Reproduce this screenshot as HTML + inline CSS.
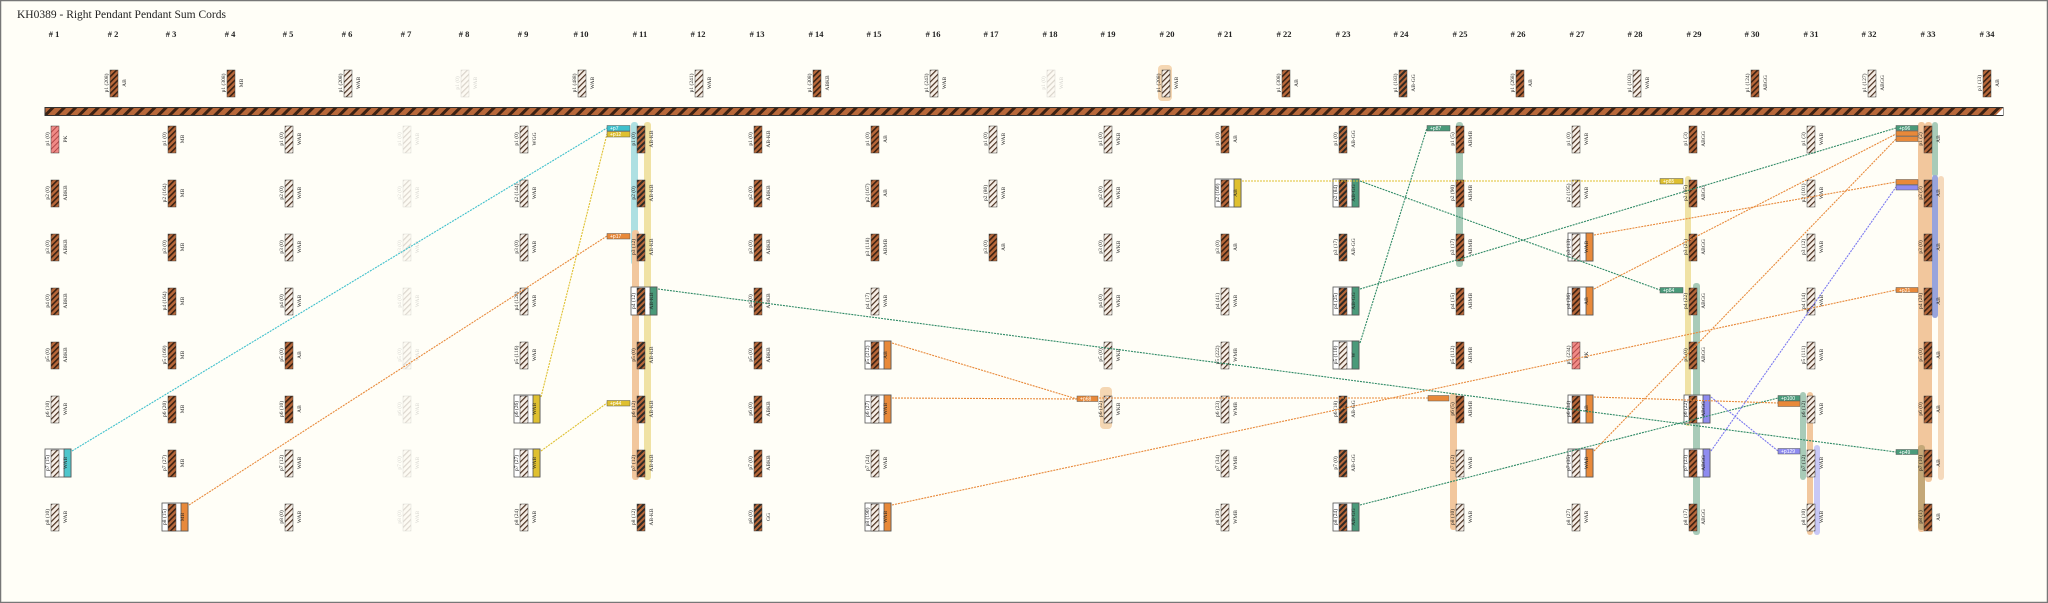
<!DOCTYPE html>
<html><head><meta charset="utf-8"><style>
html,body{margin:0;padding:0;background:#fffef7}
svg{display:block}
.t{font-family:"Liberation Serif",serif;font-size:5.5px;fill:#222;text-anchor:middle}
.h{font-family:"Liberation Serif",serif;font-size:8.5px;fill:#222;text-anchor:middle;font-weight:bold}
.g{font-family:"Liberation Sans",sans-serif;font-size:5px;fill:#fff}
.c{stroke:#444;stroke-width:.5}
.ln{fill:none;stroke-width:1.1;stroke-dasharray:2 1}
</style></head><body>
<svg width="2048" height="603" viewBox="0 0 2048 603" xmlns="http://www.w3.org/2000/svg">
<defs>
<pattern id="b" width="4" height="4" patternUnits="userSpaceOnUse" patternTransform="rotate(45)"><rect width="4" height="4" fill="#b8683a"/><rect width="1.6" height="4" fill="#3b2214"/></pattern>
<pattern id="w" width="4" height="4" patternUnits="userSpaceOnUse" patternTransform="rotate(45)"><rect width="4" height="4" fill="#f6eee6"/><rect width="1.2" height="4" fill="#4a3020"/></pattern>
<pattern id="p" width="4" height="4" patternUnits="userSpaceOnUse" patternTransform="rotate(45)"><rect width="4" height="4" fill="#f08a86"/><rect width="1" height="4" fill="#b04848"/></pattern>
<pattern id="d" width="4" height="4" patternUnits="userSpaceOnUse" patternTransform="rotate(45)"><rect width="4" height="4" fill="#b8683a"/><rect width="2" height="4" fill="#2e2a26"/></pattern>
<pattern id="m" width="8" height="8" patternUnits="userSpaceOnUse" patternTransform="rotate(45)"><rect width="8" height="8" fill="#b8683a"/><rect width="3" height="8" fill="#3b2214"/></pattern>
</defs>
<rect x="0.5" y="0.5" width="2047" height="602" fill="#fffef7" stroke="#777" stroke-width="1.5"/>
<text x="17" y="18" style="font-family:'Liberation Serif',serif;font-size:11.5px;fill:#222">KH0389 - Right Pendant Pendant Sum Cords</text>
<g>
<text class="h" x="54" y="37"># 1</text><text class="h" x="113" y="37"># 2</text><text class="h" x="171" y="37"># 3</text><text class="h" x="230" y="37"># 4</text><text class="h" x="288" y="37"># 5</text><text class="h" x="347" y="37"># 6</text><text class="h" x="406" y="37"># 7</text><text class="h" x="464" y="37"># 8</text><text class="h" x="523" y="37"># 9</text><text class="h" x="581" y="37"># 10</text><text class="h" x="640" y="37"># 11</text><text class="h" x="698" y="37"># 12</text><text class="h" x="757" y="37"># 13</text><text class="h" x="816" y="37"># 14</text><text class="h" x="874" y="37"># 15</text><text class="h" x="933" y="37"># 16</text><text class="h" x="991" y="37"># 17</text><text class="h" x="1050" y="37"># 18</text><text class="h" x="1108" y="37"># 19</text><text class="h" x="1167" y="37"># 20</text><text class="h" x="1225" y="37"># 21</text><text class="h" x="1284" y="37"># 22</text><text class="h" x="1343" y="37"># 23</text><text class="h" x="1401" y="37"># 24</text><text class="h" x="1460" y="37"># 25</text><text class="h" x="1518" y="37"># 26</text><text class="h" x="1577" y="37"># 27</text><text class="h" x="1635" y="37"># 28</text><text class="h" x="1694" y="37"># 29</text><text class="h" x="1752" y="37"># 30</text><text class="h" x="1811" y="37"># 31</text><text class="h" x="1869" y="37"># 32</text><text class="h" x="1928" y="37"># 33</text><text class="h" x="1987" y="37"># 34</text>
</g>
<!-- main cord -->
<rect x="45" y="107.5" width="1958" height="8" fill="url(#m)" stroke="#333" stroke-width="1"/>
<polygon points="1996,115 2003,108 2003,115" fill="#fff"/>
<!-- highlight bars -->
<g>
<rect x="1158" y="65" width="14" height="36" rx="4" fill="#f5d7b3"/>
<rect x="631" y="122" width="7" height="143" rx="3" fill="#aee0e2"/>
<rect x="644" y="122" width="7" height="358" rx="3" fill="#f0e2a4"/>
<rect x="632" y="230" width="7" height="250" rx="3" fill="#f2c79d"/>
<rect x="1100" y="387" width="12" height="42" rx="4" fill="#f5d7b3"/>
<rect x="1456" y="122" width="7" height="145" rx="3" fill="#a8cbb8"/>
<rect x="1450" y="393" width="7" height="137" rx="3" fill="#f2c79d"/>
<rect x="1685" y="176" width="6" height="250" rx="3" fill="#f0e2a4"/>
<rect x="1693" y="283" width="7" height="252" rx="3" fill="#a8cbb8"/>
<rect x="1800" y="392" width="6" height="88" rx="3" fill="#a8cbb8"/>
<rect x="1807" y="392" width="6" height="143" rx="3" fill="#f2c79d"/>
<rect x="1814" y="445" width="6" height="90" rx="3" fill="#c8c8f6"/>
<rect x="1918" y="122" width="7" height="410" rx="3" fill="#f2c79d"/>
<rect x="1918" y="445" width="7" height="85" rx="3" fill="#c4a878"/>
<rect x="1925" y="122" width="7" height="360" rx="3" fill="#f2c79d"/>
<rect x="1932" y="122" width="6" height="55" rx="3" fill="#a8cbb8"/>
<rect x="1932" y="175" width="6" height="143" rx="3" fill="#98a4dc"/>
<rect x="1938" y="176" width="6" height="304" rx="3" fill="#f5d9bb"/>
</g>
<!-- top subsidiaries -->
<g>
<g transform="translate(114,83)"><rect class="c" x="-4" y="-13" width="8" height="27" fill="url(#b)"/><text class="t" transform="rotate(-90)" y="-6">p1 (208)</text><text class="t" transform="rotate(-90)" y="12">AB</text></g>
<g transform="translate(231,83)"><rect class="c" x="-4" y="-13" width="8" height="27" fill="url(#b)"/><text class="t" transform="rotate(-90)" y="-6">p1 (308)</text><text class="t" transform="rotate(-90)" y="12">MB</text></g>
<g transform="translate(348,83)"><rect class="c" x="-4" y="-13" width="8" height="27" fill="url(#w)"/><text class="t" transform="rotate(-90)" y="-6">p1 (208)</text><text class="t" transform="rotate(-90)" y="12">WAB</text></g>
<g transform="translate(465,83)" opacity=".2"><rect class="c" x="-4" y="-13" width="8" height="27" fill="url(#w)"/><text class="t" transform="rotate(-90)" y="-6">p1 (0)</text><text class="t" transform="rotate(-90)" y="12">WAB</text></g>
<g transform="translate(582,83)"><rect class="c" x="-4" y="-13" width="8" height="27" fill="url(#w)"/><text class="t" transform="rotate(-90)" y="-6">p1 (488)</text><text class="t" transform="rotate(-90)" y="12">WAB</text></g>
<g transform="translate(699,83)"><rect class="c" x="-4" y="-13" width="8" height="27" fill="url(#w)"/><text class="t" transform="rotate(-90)" y="-6">p1 (241)</text><text class="t" transform="rotate(-90)" y="12">WAB</text></g>
<g transform="translate(817,83)"><rect class="c" x="-4" y="-13" width="8" height="27" fill="url(#b)"/><text class="t" transform="rotate(-90)" y="-6">p1 (308)</text><text class="t" transform="rotate(-90)" y="12">ABKB</text></g>
<g transform="translate(934,83)"><rect class="c" x="-4" y="-13" width="8" height="27" fill="url(#w)"/><text class="t" transform="rotate(-90)" y="-6">p1 (243)</text><text class="t" transform="rotate(-90)" y="12">WAB</text></g>
<g transform="translate(1051,83)" opacity=".2"><rect class="c" x="-4" y="-13" width="8" height="27" fill="url(#w)"/><text class="t" transform="rotate(-90)" y="-6">p1 (0)</text><text class="t" transform="rotate(-90)" y="12">WAB</text></g>
<g transform="translate(1166,83)"><rect class="c" x="-4" y="-13" width="8" height="27" fill="url(#w)"/><text class="t" transform="rotate(-90)" y="-6">p1 (208)</text><text class="t" transform="rotate(-90)" y="12">WAB</text></g>
<g transform="translate(1286,83)"><rect class="c" x="-4" y="-13" width="8" height="27" fill="url(#b)"/><text class="t" transform="rotate(-90)" y="-6">p1 (308)</text><text class="t" transform="rotate(-90)" y="12">AB</text></g>
<g transform="translate(1403,83)"><rect class="c" x="-4" y="-13" width="8" height="27" fill="url(#d)"/><text class="t" transform="rotate(-90)" y="-6">p1 (183)</text><text class="t" transform="rotate(-90)" y="12">AB-GG</text></g>
<g transform="translate(1520,83)"><rect class="c" x="-4" y="-13" width="8" height="27" fill="url(#b)"/><text class="t" transform="rotate(-90)" y="-6">p1 (268)</text><text class="t" transform="rotate(-90)" y="12">AB</text></g>
<g transform="translate(1637,83)"><rect class="c" x="-4" y="-13" width="8" height="27" fill="url(#w)"/><text class="t" transform="rotate(-90)" y="-6">p1 (103)</text><text class="t" transform="rotate(-90)" y="12">WAB</text></g>
<g transform="translate(1755,83)"><rect class="c" x="-4" y="-13" width="8" height="27" fill="url(#b)"/><text class="t" transform="rotate(-90)" y="-6">p1 (124)</text><text class="t" transform="rotate(-90)" y="12">ABGG</text></g>
<g transform="translate(1872,83)"><rect class="c" x="-4" y="-13" width="8" height="27" fill="url(#w)"/><text class="t" transform="rotate(-90)" y="-6">p1 (127)</text><text class="t" transform="rotate(-90)" y="12">ABGG</text></g>
<g transform="translate(1987,83)"><rect class="c" x="-4" y="-13" width="8" height="27" fill="url(#b)"/><text class="t" transform="rotate(-90)" y="-6">p1 (13)</text><text class="t" transform="rotate(-90)" y="12">AB</text></g>
</g>
<!-- highlighted boxes (drawn before cords) -->
<g stroke="#555" stroke-width=".8">
<rect x="45" y="449" width="26" height="28" fill="#fff"/><rect x="64" y="449" width="7" height="28" fill="#4fc6cc"/>
<rect x="162" y="503" width="26" height="28" fill="#fff"/><rect x="181" y="503" width="7" height="28" fill="#e8893a"/>
<rect x="514" y="395" width="26" height="28" fill="#fff"/><rect x="533" y="395" width="7" height="28" fill="#dfc030"/>
<rect x="514" y="449" width="26" height="28" fill="#fff"/><rect x="533" y="449" width="7" height="28" fill="#dfc030"/>
<rect x="631" y="287" width="26" height="28" fill="#fff"/><rect x="650" y="287" width="7" height="28" fill="#4a9a7a"/>
<rect x="865" y="341" width="26" height="28" fill="#fff"/><rect x="884" y="341" width="7" height="28" fill="#e8893a"/>
<rect x="865" y="395" width="26" height="28" fill="#fff"/><rect x="884" y="395" width="7" height="28" fill="#e8893a"/>
<rect x="865" y="503" width="26" height="28" fill="#fff"/><rect x="884" y="503" width="7" height="28" fill="#e8893a"/>
<rect x="1215" y="179" width="26" height="28" fill="#fff"/><rect x="1234" y="179" width="7" height="28" fill="#dfc030"/>
<rect x="1333" y="179" width="26" height="28" fill="#fff"/><rect x="1352" y="179" width="7" height="28" fill="#4a9a7a"/>
<rect x="1333" y="287" width="26" height="28" fill="#fff"/><rect x="1352" y="287" width="7" height="28" fill="#4a9a7a"/>
<rect x="1333" y="341" width="26" height="28" fill="#fff"/><rect x="1352" y="341" width="7" height="28" fill="#4a9a7a"/>
<rect x="1333" y="503" width="26" height="28" fill="#fff"/><rect x="1352" y="503" width="7" height="28" fill="#4a9a7a"/>
<rect x="1568" y="233" width="25" height="28" fill="#fff"/><rect x="1586" y="233" width="7" height="28" fill="#e8893a"/>
<rect x="1568" y="287" width="25" height="28" fill="#fff"/><rect x="1586" y="287" width="7" height="28" fill="#e8893a"/>
<rect x="1568" y="395" width="25" height="28" fill="#fff"/><rect x="1586" y="395" width="7" height="28" fill="#e8893a"/>
<rect x="1568" y="449" width="25" height="28" fill="#fff"/><rect x="1586" y="449" width="7" height="28" fill="#e8893a"/>
<rect x="1684" y="395" width="26" height="28" fill="#fff"/><rect x="1703" y="395" width="7" height="28" fill="#8f8cf0"/>
<rect x="1684" y="449" width="26" height="28" fill="#fff"/><rect x="1703" y="449" width="7" height="28" fill="#8f8cf0"/>
</g>
<!-- pendants -->
<g id="pend">
<!-- col1 -->
<g transform="translate(55,139)"><rect class="c" x="-4" y="-13" width="8" height="27" fill="url(#p)"/><text class="t" transform="rotate(-90)" y="-6">p1 (0)</text><text class="t" transform="rotate(-90)" y="12">PK</text></g>
<g transform="translate(55,193)"><rect class="c" x="-4" y="-13" width="8" height="27" fill="url(#b)"/><text class="t" transform="rotate(-90)" y="-6">p2 (0)</text><text class="t" transform="rotate(-90)" y="12">ABKB</text></g>
<g transform="translate(55,247)"><rect class="c" x="-4" y="-13" width="8" height="27" fill="url(#b)"/><text class="t" transform="rotate(-90)" y="-6">p3 (0)</text><text class="t" transform="rotate(-90)" y="12">ABKB</text></g>
<g transform="translate(55,301)"><rect class="c" x="-4" y="-13" width="8" height="27" fill="url(#b)"/><text class="t" transform="rotate(-90)" y="-6">p4 (0)</text><text class="t" transform="rotate(-90)" y="12">ABKB</text></g>
<g transform="translate(55,355)"><rect class="c" x="-4" y="-13" width="8" height="27" fill="url(#b)"/><text class="t" transform="rotate(-90)" y="-6">p5 (0)</text><text class="t" transform="rotate(-90)" y="12">ABKB</text></g>
<g transform="translate(55,409)"><rect class="c" x="-4" y="-13" width="8" height="27" fill="url(#w)"/><text class="t" transform="rotate(-90)" y="-6">p6 (10)</text><text class="t" transform="rotate(-90)" y="12">WAB</text></g>
<g transform="translate(55,463)"><rect class="c" x="-4" y="-13" width="8" height="27" fill="url(#w)"/><text class="t" transform="rotate(-90)" y="-6">p7 (15)</text><text class="t" transform="rotate(-90)" y="12">WAB</text></g>
<g transform="translate(55,517)"><rect class="c" x="-4" y="-13" width="8" height="27" fill="url(#w)"/><text class="t" transform="rotate(-90)" y="-6">p8 (10)</text><text class="t" transform="rotate(-90)" y="12">WAB</text></g>
<!-- col3 -->
<g transform="translate(172,139)"><rect class="c" x="-4" y="-13" width="8" height="27" fill="url(#b)"/><text class="t" transform="rotate(-90)" y="-6">p1 (0)</text><text class="t" transform="rotate(-90)" y="12">MB</text></g>
<g transform="translate(172,193)"><rect class="c" x="-4" y="-13" width="8" height="27" fill="url(#b)"/><text class="t" transform="rotate(-90)" y="-6">p2 (164)</text><text class="t" transform="rotate(-90)" y="12">MB</text></g>
<g transform="translate(172,247)"><rect class="c" x="-4" y="-13" width="8" height="27" fill="url(#b)"/><text class="t" transform="rotate(-90)" y="-6">p3 (0)</text><text class="t" transform="rotate(-90)" y="12">MB</text></g>
<g transform="translate(172,301)"><rect class="c" x="-4" y="-13" width="8" height="27" fill="url(#b)"/><text class="t" transform="rotate(-90)" y="-6">p4 (164)</text><text class="t" transform="rotate(-90)" y="12">MB</text></g>
<g transform="translate(172,355)"><rect class="c" x="-4" y="-13" width="8" height="27" fill="url(#b)"/><text class="t" transform="rotate(-90)" y="-6">p5 (160)</text><text class="t" transform="rotate(-90)" y="12">MB</text></g>
<g transform="translate(172,409)"><rect class="c" x="-4" y="-13" width="8" height="27" fill="url(#b)"/><text class="t" transform="rotate(-90)" y="-6">p6 (20)</text><text class="t" transform="rotate(-90)" y="12">MB</text></g>
<g transform="translate(172,463)"><rect class="c" x="-4" y="-13" width="8" height="27" fill="url(#b)"/><text class="t" transform="rotate(-90)" y="-6">p7 (27)</text><text class="t" transform="rotate(-90)" y="12">MB</text></g>
<g transform="translate(172,517)"><rect class="c" x="-4" y="-13" width="8" height="27" fill="url(#b)"/><text class="t" transform="rotate(-90)" y="-6">p8 (15)</text><text class="t" transform="rotate(-90)" y="12">MB</text></g>
<!-- col5 -->
<g transform="translate(289,139)"><rect class="c" x="-4" y="-13" width="8" height="27" fill="url(#w)"/><text class="t" transform="rotate(-90)" y="-6">p1 (0)</text><text class="t" transform="rotate(-90)" y="12">WAB</text></g>
<g transform="translate(289,193)"><rect class="c" x="-4" y="-13" width="8" height="27" fill="url(#w)"/><text class="t" transform="rotate(-90)" y="-6">p2 (0)</text><text class="t" transform="rotate(-90)" y="12">WAB</text></g>
<g transform="translate(289,247)"><rect class="c" x="-4" y="-13" width="8" height="27" fill="url(#w)"/><text class="t" transform="rotate(-90)" y="-6">p3 (0)</text><text class="t" transform="rotate(-90)" y="12">WAB</text></g>
<g transform="translate(289,301)"><rect class="c" x="-4" y="-13" width="8" height="27" fill="url(#w)"/><text class="t" transform="rotate(-90)" y="-6">p4 (0)</text><text class="t" transform="rotate(-90)" y="12">WAB</text></g>
<g transform="translate(289,355)"><rect class="c" x="-4" y="-13" width="8" height="27" fill="url(#b)"/><text class="t" transform="rotate(-90)" y="-6">p5 (0)</text><text class="t" transform="rotate(-90)" y="12">AB</text></g>
<g transform="translate(289,409)"><rect class="c" x="-4" y="-13" width="8" height="27" fill="url(#b)"/><text class="t" transform="rotate(-90)" y="-6">p6 (10)</text><text class="t" transform="rotate(-90)" y="12">AB</text></g>
<g transform="translate(289,463)"><rect class="c" x="-4" y="-13" width="8" height="27" fill="url(#w)"/><text class="t" transform="rotate(-90)" y="-6">p7 (12)</text><text class="t" transform="rotate(-90)" y="12">WAB</text></g>
<g transform="translate(289,517)"><rect class="c" x="-4" y="-13" width="8" height="27" fill="url(#w)"/><text class="t" transform="rotate(-90)" y="-6">p8 (0)</text><text class="t" transform="rotate(-90)" y="12">WAB</text></g>
<!-- col7 faded -->
<g opacity=".18">
<g transform="translate(407,139)"><rect class="c" x="-4" y="-13" width="8" height="27" fill="url(#w)"/><text class="t" transform="rotate(-90)" y="-6">p1 (0)</text><text class="t" transform="rotate(-90)" y="12">WAB</text></g>
<g transform="translate(407,193)"><rect class="c" x="-4" y="-13" width="8" height="27" fill="url(#w)"/><text class="t" transform="rotate(-90)" y="-6">p2 (0)</text><text class="t" transform="rotate(-90)" y="12">WAB</text></g>
<g transform="translate(407,247)"><rect class="c" x="-4" y="-13" width="8" height="27" fill="url(#w)"/><text class="t" transform="rotate(-90)" y="-6">p3 (0)</text><text class="t" transform="rotate(-90)" y="12">WAB</text></g>
<g transform="translate(407,301)"><rect class="c" x="-4" y="-13" width="8" height="27" fill="url(#w)"/><text class="t" transform="rotate(-90)" y="-6">p4 (0)</text><text class="t" transform="rotate(-90)" y="12">WAB</text></g>
<g transform="translate(407,355)"><rect class="c" x="-4" y="-13" width="8" height="27" fill="url(#w)"/><text class="t" transform="rotate(-90)" y="-6">p5 (0)</text><text class="t" transform="rotate(-90)" y="12">WAB</text></g>
<g transform="translate(407,409)"><rect class="c" x="-4" y="-13" width="8" height="27" fill="url(#w)"/><text class="t" transform="rotate(-90)" y="-6">p6 (0)</text><text class="t" transform="rotate(-90)" y="12">WAB</text></g>
<g transform="translate(407,463)"><rect class="c" x="-4" y="-13" width="8" height="27" fill="url(#w)"/><text class="t" transform="rotate(-90)" y="-6">p7 (0)</text><text class="t" transform="rotate(-90)" y="12">WAB</text></g>
<g transform="translate(407,517)"><rect class="c" x="-4" y="-13" width="8" height="27" fill="url(#w)"/><text class="t" transform="rotate(-90)" y="-6">p8 (0)</text><text class="t" transform="rotate(-90)" y="12">WAB</text></g>
</g>
<!-- col9 -->
<g transform="translate(524,139)"><rect class="c" x="-4" y="-13" width="8" height="27" fill="url(#w)"/><text class="t" transform="rotate(-90)" y="-6">p1 (0)</text><text class="t" transform="rotate(-90)" y="12">WGG</text></g>
<g transform="translate(524,193)"><rect class="c" x="-4" y="-13" width="8" height="27" fill="url(#w)"/><text class="t" transform="rotate(-90)" y="-6">p2 (144)</text><text class="t" transform="rotate(-90)" y="12">WAB</text></g>
<g transform="translate(524,247)"><rect class="c" x="-4" y="-13" width="8" height="27" fill="url(#w)"/><text class="t" transform="rotate(-90)" y="-6">p3 (0)</text><text class="t" transform="rotate(-90)" y="12">WAB</text></g>
<g transform="translate(524,301)"><rect class="c" x="-4" y="-13" width="8" height="27" fill="url(#w)"/><text class="t" transform="rotate(-90)" y="-6">p4 (128)</text><text class="t" transform="rotate(-90)" y="12">WAB</text></g>
<g transform="translate(524,355)"><rect class="c" x="-4" y="-13" width="8" height="27" fill="url(#w)"/><text class="t" transform="rotate(-90)" y="-6">p5 (116)</text><text class="t" transform="rotate(-90)" y="12">WAB</text></g>
<g transform="translate(524,409)"><rect class="c" x="-4" y="-13" width="8" height="27" fill="url(#w)"/><text class="t" transform="rotate(-90)" y="-6">p6 (26)</text><text class="t" transform="rotate(-90)" y="12">WAB</text></g>
<g transform="translate(524,463)"><rect class="c" x="-4" y="-13" width="8" height="27" fill="url(#w)"/><text class="t" transform="rotate(-90)" y="-6">p7 (27)</text><text class="t" transform="rotate(-90)" y="12">WAB</text></g>
<g transform="translate(524,517)"><rect class="c" x="-4" y="-13" width="8" height="27" fill="url(#w)"/><text class="t" transform="rotate(-90)" y="-6">p8 (24)</text><text class="t" transform="rotate(-90)" y="12">WAB</text></g>
<!-- col11 -->
<g transform="translate(641,139)"><rect class="c" x="-4" y="-13" width="8" height="27" fill="url(#d)"/><text class="t" transform="rotate(-90)" y="-6">p1 (0)</text><text class="t" transform="rotate(-90)" y="12">AB-KB</text></g>
<g transform="translate(641,193)"><rect class="c" x="-4" y="-13" width="8" height="27" fill="url(#d)"/><text class="t" transform="rotate(-90)" y="-6">p2 (0)</text><text class="t" transform="rotate(-90)" y="12">AB-KB</text></g>
<g transform="translate(641,247)"><rect class="c" x="-4" y="-13" width="8" height="27" fill="url(#d)"/><text class="t" transform="rotate(-90)" y="-6">p3 (12)</text><text class="t" transform="rotate(-90)" y="12">AB-KB</text></g>
<g transform="translate(641,301)"><rect class="c" x="-4" y="-13" width="8" height="27" fill="url(#d)"/><text class="t" transform="rotate(-90)" y="-6">p4 (12)</text><text class="t" transform="rotate(-90)" y="12">AB-KB</text></g>
<g transform="translate(641,355)"><rect class="c" x="-4" y="-13" width="8" height="27" fill="url(#d)"/><text class="t" transform="rotate(-90)" y="-6">p5 (0)</text><text class="t" transform="rotate(-90)" y="12">AB-KB</text></g>
<g transform="translate(641,409)"><rect class="c" x="-4" y="-13" width="8" height="27" fill="url(#d)"/><text class="t" transform="rotate(-90)" y="-6">p6 (12)</text><text class="t" transform="rotate(-90)" y="12">AB-KB</text></g>
<g transform="translate(641,463)"><rect class="c" x="-4" y="-13" width="8" height="27" fill="url(#d)"/><text class="t" transform="rotate(-90)" y="-6">p7 (12)</text><text class="t" transform="rotate(-90)" y="12">AB-KB</text></g>
<g transform="translate(641,517)"><rect class="c" x="-4" y="-13" width="8" height="27" fill="url(#d)"/><text class="t" transform="rotate(-90)" y="-6">p8 (12)</text><text class="t" transform="rotate(-90)" y="12">AB-KB</text></g>
<!-- col13 -->
<g transform="translate(758,139)"><rect class="c" x="-4" y="-13" width="8" height="27" fill="url(#b)"/><text class="t" transform="rotate(-90)" y="-6">p1 (0)</text><text class="t" transform="rotate(-90)" y="12">AB-KB</text></g>
<g transform="translate(758,193)"><rect class="c" x="-4" y="-13" width="8" height="27" fill="url(#b)"/><text class="t" transform="rotate(-90)" y="-6">p2 (0)</text><text class="t" transform="rotate(-90)" y="12">ABKB</text></g>
<g transform="translate(758,247)"><rect class="c" x="-4" y="-13" width="8" height="27" fill="url(#b)"/><text class="t" transform="rotate(-90)" y="-6">p3 (0)</text><text class="t" transform="rotate(-90)" y="12">ABKB</text></g>
<g transform="translate(758,301)"><rect class="c" x="-4" y="-13" width="8" height="27" fill="url(#b)"/><text class="t" transform="rotate(-90)" y="-6">p4 (0)</text><text class="t" transform="rotate(-90)" y="12">ABKB</text></g>
<g transform="translate(758,355)"><rect class="c" x="-4" y="-13" width="8" height="27" fill="url(#b)"/><text class="t" transform="rotate(-90)" y="-6">p5 (0)</text><text class="t" transform="rotate(-90)" y="12">ABKB</text></g>
<g transform="translate(758,409)"><rect class="c" x="-4" y="-13" width="8" height="27" fill="url(#b)"/><text class="t" transform="rotate(-90)" y="-6">p6 (0)</text><text class="t" transform="rotate(-90)" y="12">ABKB</text></g>
<g transform="translate(758,463)"><rect class="c" x="-4" y="-13" width="8" height="27" fill="url(#b)"/><text class="t" transform="rotate(-90)" y="-6">p7 (0)</text><text class="t" transform="rotate(-90)" y="12">ABKB</text></g>
<g transform="translate(758,517)"><rect class="c" x="-4" y="-13" width="8" height="27" fill="url(#d)"/><text class="t" transform="rotate(-90)" y="-6">p8 (0)</text><text class="t" transform="rotate(-90)" y="12">GG</text></g>
<!-- col15 -->
<g transform="translate(875,139)"><rect class="c" x="-4" y="-13" width="8" height="27" fill="url(#b)"/><text class="t" transform="rotate(-90)" y="-6">p1 (0)</text><text class="t" transform="rotate(-90)" y="12">AB</text></g>
<g transform="translate(875,193)"><rect class="c" x="-4" y="-13" width="8" height="27" fill="url(#b)"/><text class="t" transform="rotate(-90)" y="-6">p2 (167)</text><text class="t" transform="rotate(-90)" y="12">AB</text></g>
<g transform="translate(875,247)"><rect class="c" x="-4" y="-13" width="8" height="27" fill="url(#b)"/><text class="t" transform="rotate(-90)" y="-6">p3 (118)</text><text class="t" transform="rotate(-90)" y="12">ABMB</text></g>
<g transform="translate(875,301)"><rect class="c" x="-4" y="-13" width="8" height="27" fill="url(#w)"/><text class="t" transform="rotate(-90)" y="-6">p4 (17)</text><text class="t" transform="rotate(-90)" y="12">WAB</text></g>
<g transform="translate(875,355)"><rect class="c" x="-4" y="-13" width="8" height="27" fill="url(#b)"/><text class="t" transform="rotate(-90)" y="-6">p5 (212)</text><text class="t" transform="rotate(-90)" y="12">AB</text></g>
<g transform="translate(875,409)"><rect class="c" x="-4" y="-13" width="8" height="27" fill="url(#w)"/><text class="t" transform="rotate(-90)" y="-6">p6 (27)</text><text class="t" transform="rotate(-90)" y="12">WAB</text></g>
<g transform="translate(875,463)"><rect class="c" x="-4" y="-13" width="8" height="27" fill="url(#w)"/><text class="t" transform="rotate(-90)" y="-6">p7 (24)</text><text class="t" transform="rotate(-90)" y="12">WAB</text></g>
<g transform="translate(875,517)"><rect class="c" x="-4" y="-13" width="8" height="27" fill="url(#w)"/><text class="t" transform="rotate(-90)" y="-6">p8 (190)</text><text class="t" transform="rotate(-90)" y="12">WAB</text></g>
<!-- col17 -->
<g transform="translate(993,139)"><rect class="c" x="-4" y="-13" width="8" height="27" fill="url(#w)"/><text class="t" transform="rotate(-90)" y="-6">p1 (0)</text><text class="t" transform="rotate(-90)" y="12">WAB</text></g>
<g transform="translate(993,193)"><rect class="c" x="-4" y="-13" width="8" height="27" fill="url(#w)"/><text class="t" transform="rotate(-90)" y="-6">p2 (80)</text><text class="t" transform="rotate(-90)" y="12">WAB</text></g>
<g transform="translate(993,247)"><rect class="c" x="-4" y="-13" width="8" height="27" fill="url(#b)"/><text class="t" transform="rotate(-90)" y="-6">p3 (0)</text><text class="t" transform="rotate(-90)" y="12">AB</text></g>
<!-- col19 -->
<g transform="translate(1108,139)"><rect class="c" x="-4" y="-13" width="8" height="27" fill="url(#w)"/><text class="t" transform="rotate(-90)" y="-6">p1 (0)</text><text class="t" transform="rotate(-90)" y="12">WKB</text></g>
<g transform="translate(1108,193)"><rect class="c" x="-4" y="-13" width="8" height="27" fill="url(#w)"/><text class="t" transform="rotate(-90)" y="-6">p2 (0)</text><text class="t" transform="rotate(-90)" y="12">WKB</text></g>
<g transform="translate(1108,247)"><rect class="c" x="-4" y="-13" width="8" height="27" fill="url(#w)"/><text class="t" transform="rotate(-90)" y="-6">p3 (0)</text><text class="t" transform="rotate(-90)" y="12">WKB</text></g>
<g transform="translate(1108,301)"><rect class="c" x="-4" y="-13" width="8" height="27" fill="url(#w)"/><text class="t" transform="rotate(-90)" y="-6">p4 (0)</text><text class="t" transform="rotate(-90)" y="12">WKB</text></g>
<g transform="translate(1108,355)"><rect class="c" x="-4" y="-13" width="8" height="27" fill="url(#w)"/><text class="t" transform="rotate(-90)" y="-6">p5 (0)</text><text class="t" transform="rotate(-90)" y="12">WKB</text></g>
<g transform="translate(1108,409)"><rect class="c" x="-4" y="-13" width="8" height="27" fill="url(#w)"/><text class="t" transform="rotate(-90)" y="-6">p6 (32)</text><text class="t" transform="rotate(-90)" y="12">WKB</text></g>
<!-- col21 -->
<g transform="translate(1225,139)"><rect class="c" x="-4" y="-13" width="8" height="27" fill="url(#b)"/><text class="t" transform="rotate(-90)" y="-6">p1 (0)</text><text class="t" transform="rotate(-90)" y="12">AB</text></g>
<g transform="translate(1225,193)"><rect class="c" x="-4" y="-13" width="8" height="27" fill="url(#b)"/><text class="t" transform="rotate(-90)" y="-6">p2 (160)</text><text class="t" transform="rotate(-90)" y="12">AB</text></g>
<g transform="translate(1225,247)"><rect class="c" x="-4" y="-13" width="8" height="27" fill="url(#b)"/><text class="t" transform="rotate(-90)" y="-6">p3 (0)</text><text class="t" transform="rotate(-90)" y="12">AB</text></g>
<g transform="translate(1225,301)"><rect class="c" x="-4" y="-13" width="8" height="27" fill="url(#w)"/><text class="t" transform="rotate(-90)" y="-6">p4 (41)</text><text class="t" transform="rotate(-90)" y="12">WAB</text></g>
<g transform="translate(1225,355)"><rect class="c" x="-4" y="-13" width="8" height="27" fill="url(#w)"/><text class="t" transform="rotate(-90)" y="-6">p5 (222)</text><text class="t" transform="rotate(-90)" y="12">WMB</text></g>
<g transform="translate(1225,409)"><rect class="c" x="-4" y="-13" width="8" height="27" fill="url(#w)"/><text class="t" transform="rotate(-90)" y="-6">p6 (23)</text><text class="t" transform="rotate(-90)" y="12">WMB</text></g>
<g transform="translate(1225,463)"><rect class="c" x="-4" y="-13" width="8" height="27" fill="url(#w)"/><text class="t" transform="rotate(-90)" y="-6">p7 (34)</text><text class="t" transform="rotate(-90)" y="12">WMB</text></g>
<g transform="translate(1225,517)"><rect class="c" x="-4" y="-13" width="8" height="27" fill="url(#w)"/><text class="t" transform="rotate(-90)" y="-6">p8 (39)</text><text class="t" transform="rotate(-90)" y="12">WMB</text></g>
<!-- col23 -->
<g transform="translate(1343,139)"><rect class="c" x="-4" y="-13" width="8" height="27" fill="url(#d)"/><text class="t" transform="rotate(-90)" y="-6">p1 (0)</text><text class="t" transform="rotate(-90)" y="12">AB-GG</text></g>
<g transform="translate(1343,193)"><rect class="c" x="-4" y="-13" width="8" height="27" fill="url(#d)"/><text class="t" transform="rotate(-90)" y="-6">p2 (84)</text><text class="t" transform="rotate(-90)" y="12">AB-GG</text></g>
<g transform="translate(1343,247)"><rect class="c" x="-4" y="-13" width="8" height="27" fill="url(#d)"/><text class="t" transform="rotate(-90)" y="-6">p3 (17)</text><text class="t" transform="rotate(-90)" y="12">AB-GG</text></g>
<g transform="translate(1343,301)"><rect class="c" x="-4" y="-13" width="8" height="27" fill="url(#d)"/><text class="t" transform="rotate(-90)" y="-6">p4 (25)</text><text class="t" transform="rotate(-90)" y="12">AB-GG</text></g>
<g transform="translate(1343,355)"><rect class="c" x="-4" y="-13" width="8" height="27" fill="url(#w)"/><text class="t" transform="rotate(-90)" y="-6">p5 (110)</text><text class="t" transform="rotate(-90)" y="12">W</text></g>
<g transform="translate(1343,409)"><rect class="c" x="-4" y="-13" width="8" height="27" fill="url(#d)"/><text class="t" transform="rotate(-90)" y="-6">p6 (18)</text><text class="t" transform="rotate(-90)" y="12">AB-GG</text></g>
<g transform="translate(1343,463)"><rect class="c" x="-4" y="-13" width="8" height="27" fill="url(#d)"/><text class="t" transform="rotate(-90)" y="-6">p7 (0)</text><text class="t" transform="rotate(-90)" y="12">AB-GG</text></g>
<g transform="translate(1343,517)"><rect class="c" x="-4" y="-13" width="8" height="27" fill="url(#d)"/><text class="t" transform="rotate(-90)" y="-6">p8 (24)</text><text class="t" transform="rotate(-90)" y="12">AB-GG</text></g>
<!-- col25 -->
<g transform="translate(1460,139)"><rect class="c" x="-4" y="-13" width="8" height="27" fill="url(#b)"/><text class="t" transform="rotate(-90)" y="-6">p1 (5)</text><text class="t" transform="rotate(-90)" y="12">ABMB</text></g>
<g transform="translate(1460,193)"><rect class="c" x="-4" y="-13" width="8" height="27" fill="url(#b)"/><text class="t" transform="rotate(-90)" y="-6">p2 (90)</text><text class="t" transform="rotate(-90)" y="12">ABMB</text></g>
<g transform="translate(1460,247)"><rect class="c" x="-4" y="-13" width="8" height="27" fill="url(#b)"/><text class="t" transform="rotate(-90)" y="-6">p3 (17)</text><text class="t" transform="rotate(-90)" y="12">ABMB</text></g>
<g transform="translate(1460,301)"><rect class="c" x="-4" y="-13" width="8" height="27" fill="url(#b)"/><text class="t" transform="rotate(-90)" y="-6">p4 (15)</text><text class="t" transform="rotate(-90)" y="12">ABMB</text></g>
<g transform="translate(1460,355)"><rect class="c" x="-4" y="-13" width="8" height="27" fill="url(#b)"/><text class="t" transform="rotate(-90)" y="-6">p5 (112)</text><text class="t" transform="rotate(-90)" y="12">ABMB</text></g>
<g transform="translate(1460,409)"><rect class="c" x="-4" y="-13" width="8" height="27" fill="url(#b)"/><text class="t" transform="rotate(-90)" y="-6">p6 (5)</text><text class="t" transform="rotate(-90)" y="12">ABMB</text></g>
<g transform="translate(1460,463)"><rect class="c" x="-4" y="-13" width="8" height="27" fill="url(#w)"/><text class="t" transform="rotate(-90)" y="-6">p7 (12)</text><text class="t" transform="rotate(-90)" y="12">WAB</text></g>
<g transform="translate(1460,517)"><rect class="c" x="-4" y="-13" width="8" height="27" fill="url(#w)"/><text class="t" transform="rotate(-90)" y="-6">p8 (10)</text><text class="t" transform="rotate(-90)" y="12">WAB</text></g>
<!-- col27 -->
<g transform="translate(1576,139)"><rect class="c" x="-4" y="-13" width="8" height="27" fill="url(#w)"/><text class="t" transform="rotate(-90)" y="-6">p1 (0)</text><text class="t" transform="rotate(-90)" y="12">WAB</text></g>
<g transform="translate(1576,193)"><rect class="c" x="-4" y="-13" width="8" height="27" fill="url(#w)"/><text class="t" transform="rotate(-90)" y="-6">p2 (195)</text><text class="t" transform="rotate(-90)" y="12">WAB</text></g>
<g transform="translate(1576,247)"><rect class="c" x="-4" y="-13" width="8" height="27" fill="url(#w)"/><text class="t" transform="rotate(-90)" y="-6">p3 (13)</text><text class="t" transform="rotate(-90)" y="12">WAB</text></g>
<g transform="translate(1576,301)"><rect class="c" x="-4" y="-13" width="8" height="27" fill="url(#b)"/><text class="t" transform="rotate(-90)" y="-6">p4 (36)</text><text class="t" transform="rotate(-90)" y="12">AB</text></g>
<g transform="translate(1576,355)"><rect class="c" x="-4" y="-13" width="8" height="27" fill="url(#p)"/><text class="t" transform="rotate(-90)" y="-6">p5 (234)</text><text class="t" transform="rotate(-90)" y="12">PK</text></g>
<g transform="translate(1576,409)"><rect class="c" x="-4" y="-13" width="8" height="27" fill="url(#b)"/><text class="t" transform="rotate(-90)" y="-6">p6 (34)</text><text class="t" transform="rotate(-90)" y="12">AB</text></g>
<g transform="translate(1576,463)"><rect class="c" x="-4" y="-13" width="8" height="27" fill="url(#w)"/><text class="t" transform="rotate(-90)" y="-6">p7 (35)</text><text class="t" transform="rotate(-90)" y="12">WAB</text></g>
<g transform="translate(1576,517)"><rect class="c" x="-4" y="-13" width="8" height="27" fill="url(#w)"/><text class="t" transform="rotate(-90)" y="-6">p8 (27)</text><text class="t" transform="rotate(-90)" y="12">WAB</text></g>
<!-- col29 -->
<g transform="translate(1693,139)"><rect class="c" x="-4" y="-13" width="8" height="27" fill="url(#b)"/><text class="t" transform="rotate(-90)" y="-6">p1 (3)</text><text class="t" transform="rotate(-90)" y="12">ABGG</text></g>
<g transform="translate(1693,193)"><rect class="c" x="-4" y="-13" width="8" height="27" fill="url(#b)"/><text class="t" transform="rotate(-90)" y="-6">p2 (95)</text><text class="t" transform="rotate(-90)" y="12">ABGG</text></g>
<g transform="translate(1693,247)"><rect class="c" x="-4" y="-13" width="8" height="27" fill="url(#b)"/><text class="t" transform="rotate(-90)" y="-6">p3 (21)</text><text class="t" transform="rotate(-90)" y="12">ABGG</text></g>
<g transform="translate(1693,301)"><rect class="c" x="-4" y="-13" width="8" height="27" fill="url(#b)"/><text class="t" transform="rotate(-90)" y="-6">p4 (22)</text><text class="t" transform="rotate(-90)" y="12">ABGG</text></g>
<g transform="translate(1693,355)"><rect class="c" x="-4" y="-13" width="8" height="27" fill="url(#b)"/><text class="t" transform="rotate(-90)" y="-6">p5 (0)</text><text class="t" transform="rotate(-90)" y="12">ABGG</text></g>
<g transform="translate(1693,409)"><rect class="c" x="-4" y="-13" width="8" height="27" fill="url(#b)"/><text class="t" transform="rotate(-90)" y="-6">p6 (22)</text><text class="t" transform="rotate(-90)" y="12">ABGG</text></g>
<g transform="translate(1693,463)"><rect class="c" x="-4" y="-13" width="8" height="27" fill="url(#b)"/><text class="t" transform="rotate(-90)" y="-6">p7 (23)</text><text class="t" transform="rotate(-90)" y="12">ABGG</text></g>
<g transform="translate(1693,517)"><rect class="c" x="-4" y="-13" width="8" height="27" fill="url(#b)"/><text class="t" transform="rotate(-90)" y="-6">p8 (17)</text><text class="t" transform="rotate(-90)" y="12">ABGG</text></g>
<!-- col31 -->
<g transform="translate(1811,139)"><rect class="c" x="-4" y="-13" width="8" height="27" fill="url(#w)"/><text class="t" transform="rotate(-90)" y="-6">p1 (3)</text><text class="t" transform="rotate(-90)" y="12">WAB</text></g>
<g transform="translate(1811,193)"><rect class="c" x="-4" y="-13" width="8" height="27" fill="url(#w)"/><text class="t" transform="rotate(-90)" y="-6">p2 (101)</text><text class="t" transform="rotate(-90)" y="12">WAB</text></g>
<g transform="translate(1811,247)"><rect class="c" x="-4" y="-13" width="8" height="27" fill="url(#w)"/><text class="t" transform="rotate(-90)" y="-6">p3 (12)</text><text class="t" transform="rotate(-90)" y="12">WAB</text></g>
<g transform="translate(1811,301)"><rect class="c" x="-4" y="-13" width="8" height="27" fill="url(#w)"/><text class="t" transform="rotate(-90)" y="-6">p4 (14)</text><text class="t" transform="rotate(-90)" y="12">WAB</text></g>
<g transform="translate(1811,355)"><rect class="c" x="-4" y="-13" width="8" height="27" fill="url(#w)"/><text class="t" transform="rotate(-90)" y="-6">p5 (111)</text><text class="t" transform="rotate(-90)" y="12">WAB</text></g>
<g transform="translate(1811,409)"><rect class="c" x="-4" y="-13" width="8" height="27" fill="url(#w)"/><text class="t" transform="rotate(-90)" y="-6">p6 (12)</text><text class="t" transform="rotate(-90)" y="12">WAB</text></g>
<g transform="translate(1811,463)"><rect class="c" x="-4" y="-13" width="8" height="27" fill="url(#w)"/><text class="t" transform="rotate(-90)" y="-6">p7 (12)</text><text class="t" transform="rotate(-90)" y="12">WAB</text></g>
<g transform="translate(1811,517)"><rect class="c" x="-4" y="-13" width="8" height="27" fill="url(#w)"/><text class="t" transform="rotate(-90)" y="-6">p8 (10)</text><text class="t" transform="rotate(-90)" y="12">WAB</text></g>
<!-- col33 -->
<g transform="translate(1928,139)"><rect class="c" x="-4" y="-13" width="8" height="27" fill="url(#b)"/><text class="t" transform="rotate(-90)" y="-6">p1 (2)</text><text class="t" transform="rotate(-90)" y="12">AB</text></g>
<g transform="translate(1928,193)"><rect class="c" x="-4" y="-13" width="8" height="27" fill="url(#b)"/><text class="t" transform="rotate(-90)" y="-6">p2 (3)</text><text class="t" transform="rotate(-90)" y="12">AB</text></g>
<g transform="translate(1928,247)"><rect class="c" x="-4" y="-13" width="8" height="27" fill="url(#b)"/><text class="t" transform="rotate(-90)" y="-6">p3 (0)</text><text class="t" transform="rotate(-90)" y="12">AB</text></g>
<g transform="translate(1928,301)"><rect class="c" x="-4" y="-13" width="8" height="27" fill="url(#b)"/><text class="t" transform="rotate(-90)" y="-6">p4 (20)</text><text class="t" transform="rotate(-90)" y="12">AB</text></g>
<g transform="translate(1928,355)"><rect class="c" x="-4" y="-13" width="8" height="27" fill="url(#b)"/><text class="t" transform="rotate(-90)" y="-6">p5 (0)</text><text class="t" transform="rotate(-90)" y="12">AB</text></g>
<g transform="translate(1928,409)"><rect class="c" x="-4" y="-13" width="8" height="27" fill="url(#b)"/><text class="t" transform="rotate(-90)" y="-6">p6 (0)</text><text class="t" transform="rotate(-90)" y="12">AB</text></g>
<g transform="translate(1928,463)"><rect class="c" x="-4" y="-13" width="8" height="27" fill="url(#b)"/><text class="t" transform="rotate(-90)" y="-6">p7 (10)</text><text class="t" transform="rotate(-90)" y="12">AB</text></g>
<g transform="translate(1928,517)"><rect class="c" x="-4" y="-13" width="8" height="27" fill="url(#b)"/><text class="t" transform="rotate(-90)" y="-6">p8 (1)</text><text class="t" transform="rotate(-90)" y="12">AB</text></g>
</g>
<!-- connectors -->
<g class="ln">
<line class="ln" x1="72" y1="451" x2="607" y2="128" stroke="#3fc0cc"/>
<line class="ln" x1="189" y1="505" x2="607" y2="236" stroke="#e8893a"/>
<line class="ln" x1="541" y1="397" x2="607" y2="134" stroke="#dfc030"/>
<line class="ln" x1="541" y1="451" x2="607" y2="403" stroke="#dfc030"/>
<line class="ln" x1="658" y1="289" x2="1896" y2="452" stroke="#2f8a66"/>
<line class="ln" x1="892" y1="343" x2="1077" y2="399" stroke="#e8893a"/>
<line class="ln" x1="892" y1="398" x2="1077" y2="399" stroke="#e8893a"/>
<line class="ln" x1="1099" y1="398" x2="1428" y2="398" stroke="#e8893a"/>
<line class="ln" x1="892" y1="505" x2="1896" y2="290" stroke="#e8893a"/>
<line class="ln" x1="1242" y1="181" x2="1660" y2="181" stroke="#dfc030"/>
<line class="ln" x1="1360" y1="181" x2="1660" y2="290" stroke="#2f8a66"/>
<line class="ln" x1="1360" y1="289" x2="1896" y2="128" stroke="#2f8a66"/>
<line class="ln" x1="1360" y1="343" x2="1427" y2="128" stroke="#2f8a66"/>
<line class="ln" x1="1360" y1="505" x2="1778" y2="398" stroke="#2f8a66"/>
<line class="ln" x1="1594" y1="235" x2="1896" y2="182" stroke="#e8893a"/>
<line class="ln" x1="1594" y1="289" x2="1896" y2="134" stroke="#e8893a"/>
<line class="ln" x1="1594" y1="397" x2="1778" y2="403" stroke="#e8893a"/>
<line class="ln" x1="1594" y1="451" x2="1896" y2="139" stroke="#e8893a"/>
<line class="ln" x1="1711" y1="397" x2="1778" y2="451" stroke="#7a78f0"/>
<line class="ln" x1="1711" y1="451" x2="1896" y2="187" stroke="#7a78f0"/>
</g>
<!-- tags -->
<g stroke="#555" stroke-width=".5">
<rect x="607" y="125.5" width="23" height="5.5" fill="#3fc0cc"/><rect x="607" y="131.5" width="23" height="5.5" fill="#dfc030"/>
<rect x="607" y="233.5" width="23" height="5.5" fill="#e8893a"/>
<rect x="607" y="400.5" width="23" height="5.5" fill="#dfc030"/>
<rect x="1077" y="396" width="21" height="5.5" fill="#e8893a"/>
<rect x="1427" y="125.5" width="23" height="5.5" fill="#4a9a7a"/>
<rect x="1428" y="395.5" width="21" height="5.5" fill="#e8893a"/>
<rect x="1660" y="178.5" width="23" height="5.5" fill="#dfc030"/>
<rect x="1660" y="287.5" width="23" height="5.5" fill="#4a9a7a"/>
<rect x="1778" y="395.5" width="22" height="5.5" fill="#4a9a7a"/><rect x="1778" y="401" width="22" height="5.5" fill="#e8893a"/>
<rect x="1778" y="448.5" width="22" height="5.5" fill="#8f8cf0"/>
<rect x="1896" y="125.5" width="22" height="5" fill="#4a9a7a"/><rect x="1896" y="131" width="22" height="5" fill="#e8893a"/><rect x="1896" y="136.5" width="22" height="5" fill="#e8893a"/>
<rect x="1896" y="179.5" width="22" height="5" fill="#e8893a"/><rect x="1896" y="185" width="22" height="5" fill="#8f8cf0"/>
<rect x="1896" y="287.5" width="22" height="5" fill="#e8893a"/>
<rect x="1896" y="449.5" width="22" height="5" fill="#4a9a7a"/>
</g>
<g class="g">
<text x="610" y="130">+p7</text><text x="610" y="136">+p12</text><text x="610" y="238">+p17</text><text x="610" y="405">+p44</text>
<text x="1080" y="400.5">+p68</text><text x="1430" y="130">+p87</text><text x="1663" y="183">+p85</text><text x="1663" y="292">+p84</text>
<text x="1781" y="400">+p100</text><text x="1781" y="453">+p129</text><text x="1899" y="130">+p96</text><text x="1899" y="292">+p21</text><text x="1899" y="454">+p49</text>
</g>
</svg>
</body></html>
